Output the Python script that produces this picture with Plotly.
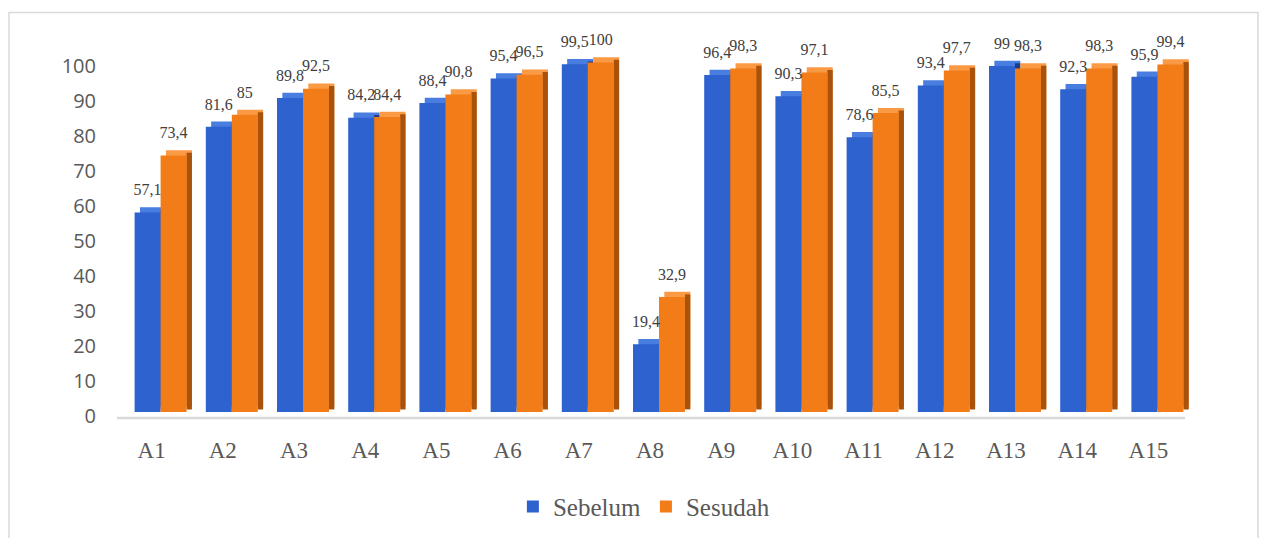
import plotly.graph_objects as go

categories = ["A1", "A2", "A3", "A4", "A5", "A6", "A7", "A8", "A9", "A10",
              "A11", "A12", "A13", "A14", "A15"]
sebelum = [57.1, 81.6, 89.8, 84.2, 88.4, 95.4, 99.5, 19.4, 96.4, 90.3,
           78.6, 93.4, 99, 92.3, 95.9]
sesudah = [73.4, 85, 92.5, 84.4, 90.8, 96.5, 100, 32.9, 98.3, 97.1,
           85.5, 97.7, 98.3, 98.3, 99.4]
y_ticks = list(range(0, 101, 10))


def fmt(v):
    return f"{v:g}".replace(".", ",")


SERIF = "Liberation Serif"
SANS = "Open Sans"
BAR_W = 0.365          # width of one front face, in category units
DEPTH_X = 0.075        # horizontal extrusion of the 3-D block
DEPTH_Y = 1.5          # vertical extrusion of the 3-D block
LABEL_LIFT = 3.2       # labels sit above the top cap
Y_MAX = 115            # head-room above 100 for the value labels

series = [
    # name, values, offset, front, top cap, side
    ("Sebelum", sebelum, -BAR_W, "#2d62cf", "#4a7de0", "#1b3c88"),
    ("Sesudah", sesudah, 0.0, "#f27c18", "#fb9a45", "#a8520b"),
]

fig = go.Figure()
for name, vals, off, front, cap, side in series:
    # top cap of the block, shifted up and to the right
    fig.add_trace(go.Bar(
        x=categories, y=vals, base=DEPTH_Y,
        offset=off + DEPTH_X, width=BAR_W,
        marker=dict(color=cap, line=dict(width=0)),
        showlegend=False, hoverinfo="skip",
    ))
    # right-hand side face
    fig.add_trace(go.Bar(
        x=categories, y=vals, base=DEPTH_Y * 0.5,
        offset=off + BAR_W, width=DEPTH_X,
        marker=dict(color=side, line=dict(width=0)),
        showlegend=False, hoverinfo="skip",
    ))
    # front face
    fig.add_trace(go.Bar(
        x=categories, y=vals, name=name,
        offset=off, width=BAR_W,
        marker=dict(color=front, line=dict(width=0)),
    ))

# value labels, carried by transparent bars so they clear the top caps
for name, vals, off, *_ in series:
    fig.add_trace(go.Bar(
        x=categories, y=vals, base=LABEL_LIFT,
        offset=off, width=BAR_W,
        marker=dict(color="rgba(0,0,0,0)", line=dict(width=0)),
        text=[fmt(v) for v in vals],
        textposition="outside",
        textfont=dict(family=SERIF, size=16, color="#404040"),
        constraintext="none",
        cliponaxis=False,
        showlegend=False, hoverinfo="skip",
    ))

# plot area: 0 at y=412 px, 3.5 px per unit
PX_PER_UNIT = 3.5
top_margin = 412 - Y_MAX * PX_PER_UNIT
plot_h = Y_MAX * PX_PER_UNIT


def py(pixel_y):
    """Convert a pixel row to paper coordinates of the plot area."""
    return (412 - pixel_y) / plot_h


def px(pixel_x):
    return (pixel_x - 125) / 1068


fig.update_layout(
    width=1270, height=538,
    autosize=False,
    margin=dict(l=125, r=77, t=top_margin, b=126, autoexpand=False),
    paper_bgcolor="white", plot_bgcolor="white",
    barmode="overlay",
    showlegend=True,
    legend=dict(
        orientation="h",
        xref="container", yref="container",
        x=0.507, xanchor="center",
        y=0.058, yanchor="middle",
        bgcolor="rgba(0,0,0,0)",
        font=dict(family=SERIF, size=25, color="#595959"),
    ),
    xaxis=dict(
        type="category", range=[-0.5, 14.5], automargin=False,
        showgrid=False, showline=False, zeroline=False,
        tickfont=dict(family=SERIF, size=23, color="#595959"),
        ticklabelshift=-9, ticklabelstandoff=22,
    ),
    yaxis=dict(
        range=[0, Y_MAX], tickvals=y_ticks, automargin=False,
        showgrid=False, showline=False, zeroline=False,
        tickfont=dict(family=SANS, size=20, color="#595959"),
        ticklabelstandoff=28, ticklabelshift=4,
    ),
    shapes=[
        # chart frame
        dict(type="rect", xref="paper", yref="paper",
             x0=px(9), x1=px(1258), y0=py(545), y1=py(12),
             line=dict(color="#d9d9d9", width=1.5), layer="below"),
        # floor line
        dict(type="line", xref="paper", yref="paper",
             x0=px(117), x1=px(1185), y0=py(418), y1=py(418),
             line=dict(color="#d9d9d9", width=2.5), layer="below"),
    ],
)

fig.write_html("out.html")
